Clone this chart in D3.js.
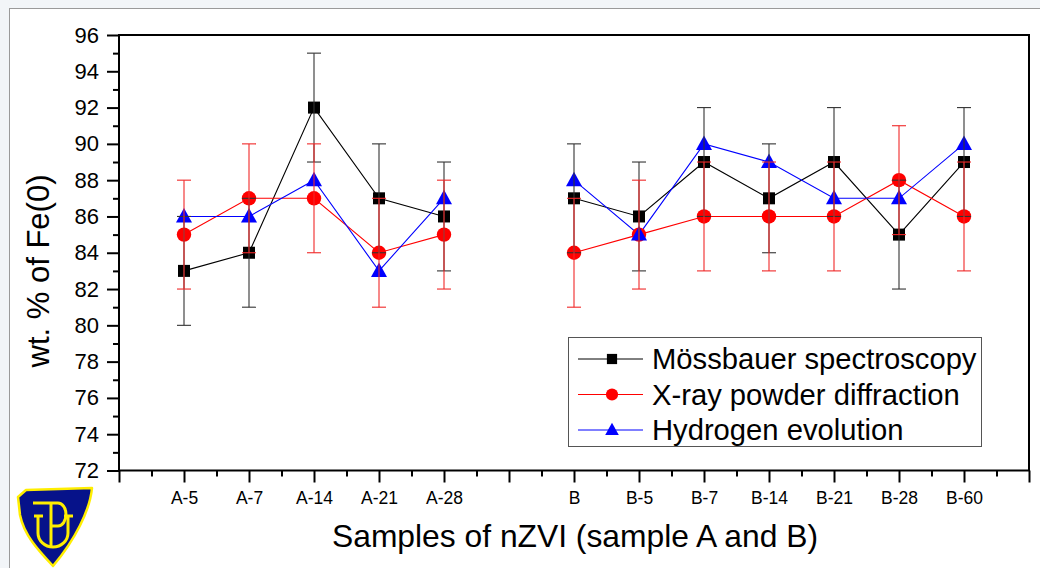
<!DOCTYPE html>
<html>
<head>
<meta charset="utf-8">
<script src="https://cdn.jsdelivr.net/npm/d3@7"></script>
<style>
  html, body { margin: 0; padding: 0; background: #f2f5f8; }
  svg { display: block; }
  text { font-family: "Liberation Sans", Arial, sans-serif; fill: #000; }
</style>
</head>
<body>
<svg id="chart" width="1040" height="568"></svg>
<script>
// Tick labels along the sample axis (blank slots separate series A and B)
const tickLabels = ["", "A-5", "A-7", "A-14", "A-21", "A-28", "", "B", "B-5", "B-7", "B-14", "B-21", "B-28", "B-60", ""];
const samples = ["A-5", "A-7", "A-14", "A-21", "A-28", "B", "B-5", "B-7", "B-14", "B-21", "B-28", "B-60"];

// wt. % of Fe(0) by method
const mossbauer = [83, 84, 92, 87, 86, 87, 86, 89, 87, 89, 85, 89];
const mossbauerErr = [3, 3, 3, 3, 3, 3, 3, 3, 3, 3, 3, 3];
const xrd = [85, 87, 87, 84, 85, 84, 85, 86, 86, 86, 88, 86];
const xrdErr = [3, 3, 3, 3, 3, 3, 3, 3, 3, 3, 3, 3];
const hydrogen = [86, 86, 88, 83, 87, 88, 85, 90, 89, 87, 87, 90];

const yTicks = [72, 74, 76, 78, 80, 82, 84, 86, 88, 90, 92, 94, 96];

const svg = d3.select("#chart");

// page frame
svg.append("rect").attr("x", 9.5).attr("y", 8.5).attr("width", 1040).attr("height", 570)
  .attr("fill", "#ffffff").attr("stroke", "#9a9a9a").attr("stroke-width", 1);

const plotLeft = 119, plotRight = 1029, plotTop = 35, plotBottom = 470.5;
const x = d3.scaleLinear().domain([0, tickLabels.length - 1]).range([plotLeft, plotRight]);
const y = d3.scaleLinear().domain([72, 96]).range([plotBottom, plotTop]);
const xi = s => tickLabels.indexOf(s);

// y axis: minor then major ticks
svg.append("g").attr("transform", `translate(${plotLeft},0)`)
  .call(d3.axisLeft(y).tickValues(d3.range(73, 96, 2)).tickSize(6).tickFormat(""))
  .call(g => g.select(".domain").remove())
  .call(g => g.selectAll("line").attr("stroke", "#000").attr("stroke-width", 2));
svg.append("g").attr("transform", `translate(${plotLeft},0)`)
  .call(d3.axisLeft(y).tickValues(yTicks).tickSize(12).tickPadding(8))
  .call(g => g.select(".domain").remove())
  .call(g => g.selectAll("line").attr("stroke", "#000").attr("stroke-width", 2))
  .call(g => g.selectAll("text").attr("font-size", 22).attr("font-family", "Liberation Sans, Arial, sans-serif"));

// x axis: minor then major ticks
svg.append("g").attr("transform", `translate(0,${plotBottom})`)
  .call(d3.axisBottom(x).tickValues(d3.range(0.5, 14, 1)).tickSize(6).tickFormat(""))
  .call(g => g.select(".domain").remove())
  .call(g => g.selectAll("line").attr("stroke", "#000").attr("stroke-width", 2));
svg.append("g").attr("transform", `translate(0,${plotBottom})`)
  .call(d3.axisBottom(x).tickValues(d3.range(0, tickLabels.length)).tickSize(12).tickPadding(9)
    .tickFormat(i => tickLabels[i]))
  .call(g => g.select(".domain").remove())
  .call(g => g.selectAll("line").attr("stroke", "#000").attr("stroke-width", 2))
  .call(g => g.selectAll("text").attr("font-size", 17.5).attr("font-family", "Liberation Sans, Arial, sans-serif"));

// plot frame
svg.append("rect").attr("x", plotLeft).attr("y", plotTop).attr("width", plotRight - plotLeft).attr("height", plotBottom - plotTop)
  .attr("fill", "none").attr("stroke", "#000").attr("stroke-width", 2);

// axis titles
svg.append("text").attr("transform", "translate(49,271) rotate(-90)")
  .attr("text-anchor", "middle").attr("font-size", 31).text("wt. % of Fe(0)");
svg.append("text").attr("x", 575).attr("y", 547)
  .attr("text-anchor", "middle").attr("font-size", 31.8).text("Samples of nZVI (sample A and B)");

const series = [
  { name: "Mössbauer spectroscopy", values: mossbauer, err: mossbauerErr, color: "#000000", errColor: "#333333", shape: "square" },
  { name: "X-ray powder diffraction", values: xrd, err: xrdErr, color: "#ff0000", errColor: "#f02828", shape: "circle" },
  { name: "Hydrogen evolution", values: hydrogen, err: null, color: "#0000ff", errColor: "#0000ff", shape: "triangle" }
];

function marker(g, shape, color, scale) {
  const s = scale || 1;
  if (shape === "square") {
    g.append("rect").attr("x", -6 * s).attr("y", -6 * s).attr("width", 12 * s).attr("height", 12 * s).attr("fill", color);
  } else if (shape === "circle") {
    g.append("circle").attr("r", 7.2 * s).attr("fill", color);
  } else {
    g.append("path").attr("d", `M0,${-8.5 * s}L${8 * s},${6 * s}L${-8 * s},${6 * s}Z`).attr("fill", color);
  }
}

const line = d3.line().x(d => x(xi(d.s))).y(d => y(d.v));

// connecting lines, one run per sample group (A and B)
series.forEach(sr => {
  const pts = samples.map((s, i) => ({ s, v: sr.values[i], grp: s.charAt(0) }));
  d3.groups(pts, d => d.grp).forEach(([, run]) => {
    svg.append("path").datum(run).attr("d", line).attr("fill", "none")
      .attr("stroke", sr.color).attr("stroke-width", 1.1);
  });
});

// markers
series.forEach(sr => {
  samples.forEach((s, i) => {
    const g = svg.append("g").attr("transform", `translate(${x(xi(s))},${y(sr.values[i])})`);
    marker(g, sr.shape, sr.color);
  });
});

// error bars drawn on top
series.forEach(sr => {
  if (!sr.err) return;
  samples.forEach((s, i) => {
    const cx = x(xi(s));
    const lo = y(sr.values[i] - sr.err[i]), hi = y(sr.values[i] + sr.err[i]);
    const g = svg.append("g").attr("stroke", sr.errColor).attr("stroke-width", 1.1);
    g.append("line").attr("x1", cx).attr("x2", cx).attr("y1", lo).attr("y2", hi);
    g.append("line").attr("x1", cx - 7).attr("x2", cx + 7).attr("y1", lo).attr("y2", lo);
    g.append("line").attr("x1", cx - 7).attr("x2", cx + 7).attr("y1", hi).attr("y2", hi);
  });
});

// legend
const lg = svg.append("g");
lg.append("rect").attr("x", 568.5).attr("y", 337.5).attr("width", 413).attr("height", 109)
  .attr("fill", "#fff").attr("stroke", "#555").attr("stroke-width", 1);
series.forEach((sr, i) => {
  const ry = 359 + i * 35.5;
  lg.append("line").attr("x1", 578).attr("x2", 643).attr("y1", ry).attr("y2", ry)
    .attr("stroke", sr.color).attr("stroke-width", 1);
  const g = lg.append("g").attr("transform", `translate(612,${ry})`);
  marker(g, sr.shape, sr.color, 0.85);
  lg.append("text").attr("x", 652).attr("y", ry + 10).attr("font-size", 29.2).text(sr.name);
});

// university emblem
const logo = svg.append("g");
logo.append("path")
  .attr("d", "M26,490 L92,488 C90,510 75,540 53,566 C38,550 24,535 20,515 L18,497 Z")
  .attr("fill", "#06128a").attr("stroke", "#ffee00").attr("stroke-width", 2.5).attr("stroke-linejoin", "round");
const ys = logo.append("g").attr("fill", "none").attr("stroke", "#ffee00").attr("stroke-width", 3).attr("stroke-linecap", "butt");
ys.append("path").attr("d", "M33,503 H58 A8,11.5 0 0 1 58,526 H51");
ys.append("path").attr("d", "M51,503 V547");
ys.append("path").attr("d", "M38,516 V533 A15,14 0 0 0 68,533 V516");
ys.append("path").attr("d", "M34,516 H43 M64,516 H73");
</script>
</body>
</html>
